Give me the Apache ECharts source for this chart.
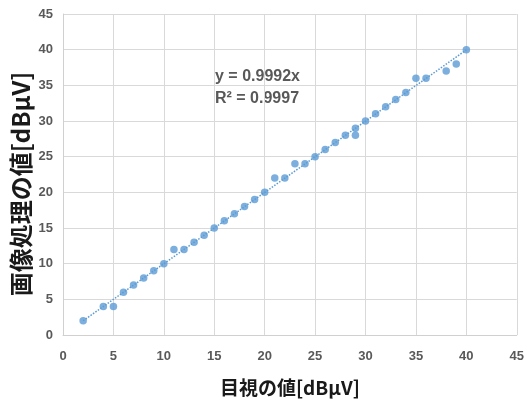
<!DOCTYPE html>
<html>
<head>
<meta charset="utf-8">
<script src="https://cdn.jsdelivr.net/npm/echarts@6/dist/echarts.min.js"></script>
<style>
html,body{margin:0;padding:0;background:#fff;}
#c{width:527px;height:403px;}
</style>
</head>
<body>
<div id="c"></div>
<script>
// Data
var visualValues = [2,4,5,6,7,8,9,10,11,12,13,14,15,16,17,18,19,20,21,22,23,24,25,26,27,28,29,29,30,31,32,33,34,35,36,38,39,40];
var imageValues  = [2,4,4,6,7,8,9,10,12,12,13,14,15,16,17,18,19,20,22,22,24,24,25,26,27,28,29,28,30,31,32,33,34,36,36,37,38,40];
var trendX = [2, 40];
var trendSlope = 0.9992;
var rSquared = 0.9997;
var axisTicks = [0,5,10,15,20,25,30,35,40,45];
var xTitle = '目視の値[dBμV]';
var yTitle = '画像処理の値[dBμV]';

var points = visualValues.map(function(v, i){ return [v, imageValues[i]]; });
var trend = trendX.map(function(x){ return [x, trendSlope * x]; });

var latin = '"Liberation Sans Narrow", "Liberation Sans", "Noto Sans", sans-serif';
var cjk = '"Noto Sans CJK JP", "Liberation Sans", sans-serif';

var chart = echarts.init(document.getElementById('c'), null, {renderer:'canvas'});
chart.setOption({
  animation: false,
  backgroundColor: '#ffffff',
  grid: {left: 63, right: 6, top: 14, bottom: 68, containLabel: false},
  xAxis: {
    type: 'value', min: axisTicks[0], max: axisTicks[axisTicks.length-1], interval: 5,
    name: xTitle, nameLocation: 'middle', nameGap: 43,
    nameTextStyle: {fontFamily: cjk, fontSize: 19, fontWeight: 'bold', color: '#1a1a1a'},
    axisLine: {show: true, lineStyle: {color: '#d0d0d0', width: 1}},
    axisTick: {show: false},
    axisLabel: {margin: 15, color: '#595959', fontWeight: 'bold', fontSize: 13, fontFamily: latin},
    splitLine: {show: true, lineStyle: {color: '#d9d9d9', width: 1}}
  },
  yAxis: {
    type: 'value', min: axisTicks[0], max: axisTicks[axisTicks.length-1], interval: 5,
    axisLine: {show: true, lineStyle: {color: '#d0d0d0', width: 1}},
    axisTick: {show: false},
    axisLabel: {margin: 10, color: '#595959', fontWeight: 'bold', fontSize: 13, fontFamily: latin},
    splitLine: {show: true, lineStyle: {color: '#d9d9d9', width: 1}}
  },
  series: [
    {
      type: 'line', data: trend, symbol: 'none', silent: true, z: 2,
      lineStyle: {color: '#5B9BD5', width: 1.5, type: 'dotted'}
    },
    {
      type: 'scatter', data: points, symbol: 'circle', symbolSize: 7.5, z: 3,
      itemStyle: {color: '#5B9BD5'}
    }
  ],
  graphic: [
    {type: 'text', x: 21, y: 184, rotation: Math.PI / 2,
     style: {text: yTitle, fontFamily: cjk, fontSize: 24, fontWeight: 'bold', fill: '#1a1a1a', align: 'center', verticalAlign: 'middle'}},
    {type: 'text', left: 215, top: 69, style: {text: 'y = ' + trendSlope + 'x', fontFamily: latin, fontSize: 16, fontWeight: 'bold', fill: '#595959'}},
    {type: 'text', left: 215, top: 91, style: {text: 'R² = ' + rSquared, fontFamily: latin, fontSize: 16, fontWeight: 'bold', fill: '#595959'}}
  ]
});
</script>
</body>
</html>
